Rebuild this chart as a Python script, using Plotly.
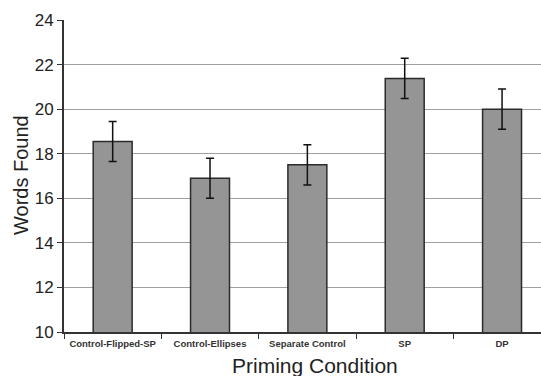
import plotly.graph_objects as go

categories = ["Control-Flipped-SP", "Control-Ellipses", "Separate Control", "SP", "DP"]
words_found = [18.55, 16.9, 17.5, 21.38, 20.0]
errors = [0.9, 0.9, 0.9, 0.9, 0.9]
y_ticks = [10, 12, 14, 16, 18, 20, 22, 24]

fig = go.Figure(go.Bar(
    x=categories, y=words_found, width=0.4,
    marker=dict(color="#959595", line=dict(color="#2b2b2b", width=1.5)),
    error_y=dict(type="data", array=errors, color="#111111", thickness=1.5, width=4),
))

font = "Liberation Sans, Arial, sans-serif"
fig.update_layout(
    width=541, height=376,
    margin=dict(l=64, r=0, t=20, b=44),
    paper_bgcolor="white", plot_bgcolor="white",
    showlegend=False,
    font=dict(family=font, color="#222"),
)
fig.update_xaxes(
    type="category", range=[-0.5, 4.4], automargin=False,
    tickson="boundaries", ticks="outside", ticklen=5, tickcolor="#333",
    showline=True, linecolor="#333", linewidth=2,
    showgrid=False, ticklabelstandoff=2,
    tickfont=dict(size=9.5, family=font, color="#333", weight="bold"),
)
fig.update_yaxes(
    range=[10, 24], tickvals=y_ticks, automargin=False,
    ticks="outside", ticklen=5, tickcolor="#333",
    showline=True, linecolor="#333", linewidth=2,
    showgrid=True, gridcolor="#a0a0a0", gridwidth=1.2,
    zeroline=False,
    tickfont=dict(size=17, family=font, color="#222"),
)
fig.add_annotation(
    text="Words Found", xref="paper", yref="paper", textangle=-90,
    x=(21 - 64) / 477, y=(332 - 175) / 312, xanchor="center", yanchor="middle",
    showarrow=False, font=dict(size=20, family=font, color="#222"),
)
fig.add_annotation(
    text="Priming Condition", xref="paper", yref="paper",
    x=(315 - 64) / 477, y=-33 / 312, xanchor="center", yanchor="middle",
    showarrow=False, font=dict(size=21, family=font, color="#222"),
)

fig.write_html("out.html", post_script="document.body.style.margin='0';",
               config={"displayModeBar": False})
